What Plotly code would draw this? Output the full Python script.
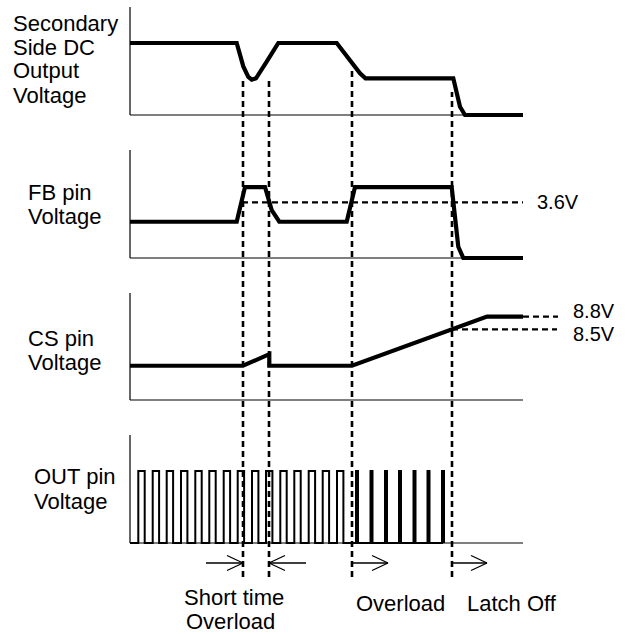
import plotly.graph_objects as go

W, H = 630, 634

# ---------------- signal data (time in arbitrary units) ----------------
T_END = 393
# short-overload start, short-overload end, overload start, latch-off
events = [113, 139, 222, 322]

# Secondary side DC output voltage (normalised, 1 = nominal)
vout_t = [0, 106.7, 113.3, 118.3, 121.7, 126, 136.7, 148.3, 206.7, 230, 235.5,
          323.3, 330, 335, 393]
vout_v = [1.0, 1.0, 0.675, 0.53, 0.49, 0.51, 0.74, 1.0, 1.0, 0.58, 0.51,
          0.51, 0.115, 0.0, 0.0]

# FB pin voltage (V)
fb_t = [0, 106.7, 110.7, 115, 135, 141.7, 149.3, 216.7, 225, 321.7, 328.3, 333.3, 393]
fb_v = [2.35, 2.35, 3.43, 4.6, 4.6, 3.11, 2.35, 2.35, 4.6, 4.6, 0.73, 0.0, 0.0]
fb_threshold = 3.6

# CS pin voltage (V)
cs_t = [0, 113, 139.3, 139.3, 222, 357, 393]
cs_v = [7.65, 7.65, 7.92, 7.65, 7.65, 8.8, 8.8]
cs_clamp = 8.8
cs_latch = 8.5

# OUT pin gate pulses: rising edges and on-widths
out_wide_rise = [8.3, 22.7, 36.7, 51, 65.3, 79.3, 93.7, 107.7, 122, 136, 150.3,
                 164.3, 178.7, 192.7, 207]
out_wide_width = 6.4
out_narrow_rise = [226, 240.5, 255, 269, 283.5, 297.5, 312]
out_narrow_width = 2.0

# ---------------- layout helpers ----------------
FONT = "Liberation Sans, Arial, sans-serif"


def paper_y(py):
    return 1 - py / H


def panel_axis(top_px, bot_px, v_lo, v_hi, pad=10):
    per_px = (v_hi - v_lo) / (bot_px - top_px)
    pt = min(pad, top_px)
    dom = [paper_y(bot_px + pad), paper_y(top_px - pt)]
    rng = [v_lo - pad * per_px, v_hi + pt * per_px]
    return dict(domain=dom, range=rng, visible=False, fixedrange=True,
                anchor="x"), (v_lo, v_hi)


panels = [
    panel_axis(7, 115, 0.0, 1.5),
    panel_axis(150, 258, 0.0, 7.0),
    panel_axis(293, 400, 6.85, 9.35),
    panel_axis(435, 543, 0.0, 1.5),
]

fig = go.Figure()

thick = dict(color="black", width=4.2)
fig.add_trace(go.Scatter(x=vout_t, y=vout_v, mode="lines", line=thick, yaxis="y"))
fig.add_trace(go.Scatter(x=fb_t, y=fb_v, mode="lines", line=thick, yaxis="y2"))
fig.add_trace(go.Scatter(x=cs_t, y=cs_v, mode="lines", line=thick, yaxis="y3"))

# build the OUT pulse train as a step waveform
px, py = [0], [0]
for rises, w in ((out_wide_rise, out_wide_width), (out_narrow_rise, out_narrow_width)):
    for r in rises:
        px += [r, r, r + w, r + w]
        py += [0, 1, 1, 0]
fig.add_trace(go.Scatter(x=px, y=py, mode="lines",
                         line=dict(color="black", width=2), yaxis="y4"))

shapes = []
yrefs = ["y", "y2", "y3", "y4"]
# axis frames: vertical axis and baseline for each panel
for (ax, (lo, hi)), yr in zip(panels, yrefs):
    shapes.append(dict(type="line", xref="x", yref=yr, x0=0, x1=0, y0=lo, y1=hi,
                       line=dict(color="black", width=1.2)))
    shapes.append(dict(type="line", xref="x", yref=yr, x0=0, x1=T_END, y0=lo, y1=lo,
                       line=dict(color="black", width=1.2)))

dash = dict(color="black", width=2.2, dash="6px,4px")
# threshold / clamp levels
shapes.append(dict(type="line", xref="x", yref="y2", x0=112, x1=T_END,
                   y0=fb_threshold, y1=fb_threshold, line=dash))
shapes.append(dict(type="line", xref="x", yref="y3", x0=T_END, x1=428,
                   y0=cs_clamp, y1=cs_clamp, line=dash))
shapes.append(dict(type="line", xref="x", yref="y3", x0=events[3], x1=427,
                   y0=cs_latch, y1=cs_latch, line=dash))

# event markers running through all panels
event_top_px = [78, 78, 70, 92]
event_bot_px = 577
for t, top in zip(events, event_top_px):
    shapes.append(dict(type="line", xref="x", yref="paper", x0=t, x1=t,
                       y0=paper_y(event_bot_px), y1=paper_y(top),
                       line=dict(color="black", width=2.6, dash="6px,4px")))

# interval arrows under the timing diagram
arrow_y = paper_y(563)
head_len, head_half = 16, 7.5
thin = dict(color="black", width=1.3)
arrows = [(events[0] - 37, events[0], +1),   # tip at short-overload start
          (events[1] + 37, events[1], -1),   # tip at short-overload end
          (events[2], events[2] + 36, +1),
          (events[3], events[3] + 35, +1)]
for a0, tip, direction in arrows:
    shapes.append(dict(type="line", xref="x", yref="paper", x0=a0, x1=tip,
                       y0=arrow_y, y1=arrow_y, line=thin))
    back = tip - direction * head_len
    for s in (+1, -1):
        shapes.append(dict(type="line", xref="x", yref="paper", x0=back, x1=tip,
                           y0=arrow_y + s * head_half / H, y1=arrow_y, line=thin))

annotations = []


def label(text, x_px, y_px, size=22):
    annotations.append(dict(text=text, xref="paper", yref="paper",
                            x=x_px / W, y=paper_y(y_px), xanchor="left",
                            yanchor="middle", showarrow=False,
                            font=dict(family=FONT, size=size, color="black")))


for txt, y in (("Secondary", 24), ("Side DC", 48), ("Output", 71), ("Voltage", 96)):
    label(txt, 11, y)
label("FB pin", 26, 192)
label("Voltage", 26, 216)
label("CS pin", 26, 338)
label("Voltage", 26, 362)
label("OUT pin", 32, 476)
label("Voltage", 32, 501)
label("Short time", 182, 597)
label("Overload", 184, 621)
label("Overload", 354, 603)
label("Latch Off", 465, 603)


def level_label(text, x, y, yref, yshift):
    annotations.append(dict(text=text, xref="x", yref=yref, x=x, y=y,
                            xanchor="left", yanchor="middle", showarrow=False,
                            yshift=yshift,
                            font=dict(family=FONT, size=20, color="black")))


level_label("3.6V", 405, fb_threshold, "y2", 0)
level_label("8.8V", 441, cs_clamp, "y3", 6)
level_label("8.5V", 441, cs_latch, "y3", -5)

fig.update_layout(
    width=W, height=H,
    margin=dict(l=0, r=0, t=0, b=0),
    paper_bgcolor="white", plot_bgcolor="white",
    showlegend=False,
    xaxis=dict(domain=[0, 1], range=[-130, 500], visible=False, fixedrange=True),
    yaxis=panels[0][0], yaxis2=panels[1][0], yaxis3=panels[2][0], yaxis4=panels[3][0],
    shapes=shapes, annotations=annotations,
)

fig.write_html("out.html")
